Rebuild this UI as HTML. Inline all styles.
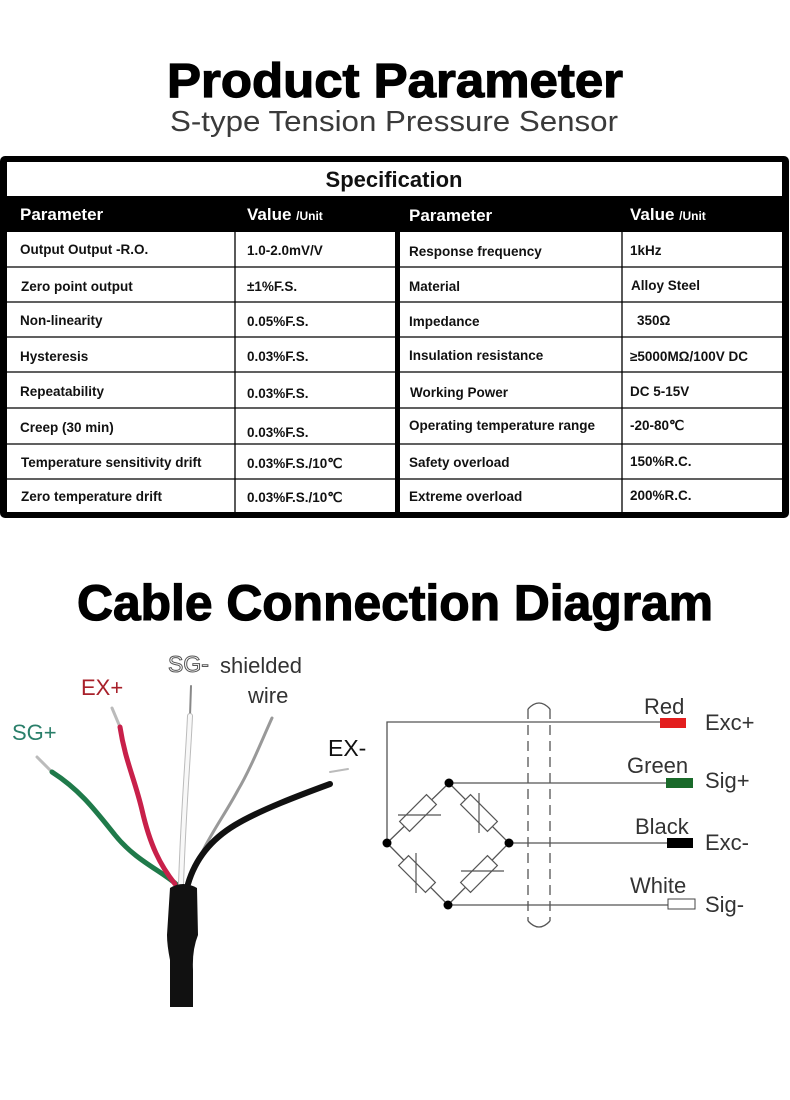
<!DOCTYPE html>
<html><head><meta charset="utf-8"><style>
html,body{margin:0;padding:0;background:#fff;}
svg{display:block;}
.t{font-family:"Liberation Sans",sans-serif;font-weight:bold;font-size:13.5px;fill:#111;}
.h{font-family:"Liberation Sans",sans-serif;font-weight:bold;font-size:17px;fill:#fff;}
.hs{font-family:"Liberation Sans",sans-serif;font-weight:bold;font-size:12px;fill:#fff;}
.c{font-family:"Liberation Sans",sans-serif;font-size:22px;fill:#333;}
</style></head><body>
<svg width="790" height="1100" viewBox="0 0 790 1100" xmlns="http://www.w3.org/2000/svg">
<text x="395" y="97" text-anchor="middle" font-family="Liberation Sans,sans-serif" font-weight="bold" font-size="48" textLength="456" lengthAdjust="spacingAndGlyphs" fill="#000" stroke="#000" stroke-width="1.2">Product Parameter</text>
<text x="394" y="131" text-anchor="middle" font-family="Liberation Sans,sans-serif" font-size="29" textLength="448" lengthAdjust="spacingAndGlyphs" fill="#3a3a3a">S-type Tension Pressure Sensor</text>

<!-- table -->
<rect x="0" y="156" width="789" height="362" rx="5" fill="#000"/>
<rect x="7" y="162" width="775" height="34" fill="#fff"/>
<text x="394" y="187" text-anchor="middle" font-family="Liberation Sans,sans-serif" font-weight="bold" font-size="22" fill="#111">Specification</text>
<rect x="7" y="232" width="388" height="280" fill="#fff"/>
<rect x="400" y="232" width="382" height="280" fill="#fff"/>
<g stroke="#000" stroke-width="1.3">
<line x1="7" y1="267" x2="782" y2="267"/><line x1="7" y1="302" x2="782" y2="302"/>
<line x1="7" y1="337" x2="782" y2="337"/><line x1="7" y1="372" x2="782" y2="372"/>
<line x1="7" y1="408" x2="782" y2="408"/><line x1="7" y1="444" x2="782" y2="444"/>
<line x1="7" y1="479" x2="782" y2="479"/>
<line x1="235" y1="232" x2="235" y2="512"/><line x1="622" y1="232" x2="622" y2="512"/>
</g>
<rect x="395" y="196" width="5" height="320" fill="#000"/>
<text class="h" x="20" y="220">Parameter</text>
<text class="h" x="247" y="220">Value <tspan class="hs">/Unit</tspan></text>
<text class="h" x="409" y="221">Parameter</text>
<text class="h" x="630" y="220">Value <tspan class="hs">/Unit</tspan></text>
<g class="t">
<text x="20" y="254">Output Output -R.O.</text><text x="247" y="255">1.0-2.0mV/V</text>
<text x="21" y="291">Zero point output</text><text x="247" y="291">±1%F.S.</text>
<text x="20" y="325">Non-linearity</text><text x="247" y="326">0.05%F.S.</text>
<text x="20" y="361">Hysteresis</text><text x="247" y="361">0.03%F.S.</text>
<text x="20" y="396">Repeatability</text><text x="247" y="398">0.03%F.S.</text>
<text x="20" y="432">Creep (30 min)</text><text x="247" y="437">0.03%F.S.</text>
<text x="21" y="467">Temperature sensitivity drift</text><text x="247" y="468">0.03%F.S./10℃</text>
<text x="21" y="501">Zero temperature drift</text><text x="247" y="502">0.03%F.S./10℃</text>
<text x="409" y="256">Response frequency</text><text x="630" y="255">1kHz</text>
<text x="409" y="291">Material</text><text x="631" y="290">Alloy Steel</text>
<text x="409" y="326">Impedance</text><text x="637" y="325">350Ω</text>
<text x="409" y="360">Insulation resistance</text><text x="630" y="361">≥5000MΩ/100V DC</text>
<text x="410" y="397">Working Power</text><text x="630" y="396">DC 5-15V</text>
<text x="409" y="430">Operating temperature range</text><text x="630" y="430">-20-80℃</text>
<text x="409" y="467">Safety overload</text><text x="630" y="466">150%R.C.</text>
<text x="409" y="501">Extreme overload</text><text x="630" y="500">200%R.C.</text>
</g>

<text x="395" y="620" text-anchor="middle" font-family="Liberation Sans,sans-serif" font-weight="bold" font-size="50" textLength="636" lengthAdjust="spacingAndGlyphs" fill="#000" stroke="#000" stroke-width="1.2">Cable Connection Diagram</text>

<!-- wires -->
<g fill="none" stroke-linecap="round">
<path d="M37 757 L52 772" stroke="#bbb" stroke-width="3"/>
<path d="M52 772 C80 790 95 810 115 835 C135 860 160 870 176 884" stroke="#1f7a4a" stroke-width="5"/>
<path d="M112 708 L120 727" stroke="#bbb" stroke-width="3"/>
<path d="M120 727 C125 760 135 780 142 810 C150 845 160 865 175 884" stroke="#c8204a" stroke-width="5"/>
<path d="M191 686 L190 716" stroke="#888" stroke-width="2"/>
<path d="M190 716 C188 760 184 800 181 884" stroke="#bbb" stroke-width="6"/>
<path d="M190 716 C188 760 184 800 181 884" stroke="#f8f8f8" stroke-width="4"/>
<path d="M272 718 C262 740 250 770 238 790 C222 820 205 840 190 880" stroke="#999" stroke-width="3"/>
<path d="M330 772 L348 769" stroke="#bbb" stroke-width="2"/>
<path d="M330 784 C300 795 260 810 235 825 C210 840 195 860 188 884" stroke="#111" stroke-width="6"/>
</g>
<path d="M170 888 Q183 880 197 888 L198 935 Q192 950 193 970 L193 1007 L170 1007 L170 960 Q167 945 167 935 Z" fill="#111"/>
<text x="12" y="740" font-family="Liberation Sans,sans-serif" font-size="22" fill="#2a7f6a">SG+</text>
<text x="81" y="695" font-family="Liberation Sans,sans-serif" font-size="22" fill="#a8202a">EX+</text>
<text x="168" y="672" font-family="Liberation Sans,sans-serif" font-size="23" fill="#fff" stroke="#555" stroke-width="1">SG-</text>
<text x="220" y="673" class="c" font-size="24">shielded</text>
<text x="248" y="703" class="c" font-size="24">wire</text>
<text x="328" y="756" font-family="Liberation Sans,sans-serif" font-size="23" fill="#111">EX-</text>

<!-- circuit -->
<g stroke="#555" stroke-width="1.3" fill="none">
<polyline points="387,843 387,722 662,722"/>
<line x1="449" y1="783" x2="666" y2="783"/>
<line x1="509" y1="843" x2="667" y2="843"/>
<line x1="448" y1="905" x2="668" y2="905"/>
<polyline points="387,843 449,783 509,843 448,905 387,843"/>
<path d="M528 709 Q539 697 550 709" />
<path d="M528 921 Q539 933 550 921" />
<line x1="528" y1="709" x2="528" y2="921" stroke-dasharray="10,6"/>
<line x1="550" y1="709" x2="550" y2="921" stroke-dasharray="10,6"/>
</g>
<g fill="#fff" stroke="#555" stroke-width="1.2">
<rect x="-19" y="-7" width="38" height="14" transform="translate(418,813) rotate(-45)"/>
<rect x="-19" y="-7" width="38" height="14" transform="translate(479,813) rotate(45)"/>
<rect x="-19" y="-7" width="38" height="14" transform="translate(417,874) rotate(45)"/>
<rect x="-19" y="-7" width="38" height="14" transform="translate(479,874) rotate(-45)"/>
</g>
<g stroke="#555" stroke-width="1.2">
<line x1="398" y1="815" x2="441" y2="815"/>
<line x1="479" y1="793" x2="479" y2="833"/>
<line x1="416" y1="853" x2="416" y2="893"/>
<line x1="461" y1="871" x2="504" y2="871"/>
</g>
<g fill="#000"><circle cx="387" cy="843" r="4.5"/><circle cx="449" cy="783" r="4.5"/><circle cx="509" cy="843" r="4.5"/><circle cx="448" cy="905" r="4.5"/></g>
<rect x="660" y="718" width="26" height="10" fill="#e31e1e"/>
<rect x="666" y="778" width="27" height="10" fill="#1a6a2a"/>
<rect x="667" y="838" width="26" height="10" fill="#000"/>
<rect x="668" y="899" width="27" height="10" fill="#fff" stroke="#444" stroke-width="1"/>
<g class="c">
<text x="644" y="714">Red</text><text x="705" y="730">Exc+</text>
<text x="627" y="773">Green</text><text x="705" y="788">Sig+</text>
<text x="635" y="834">Black</text><text x="705" y="850">Exc-</text>
<text x="630" y="893">White</text><text x="705" y="912">Sig-</text>
</g>
</svg>
</body></html>
